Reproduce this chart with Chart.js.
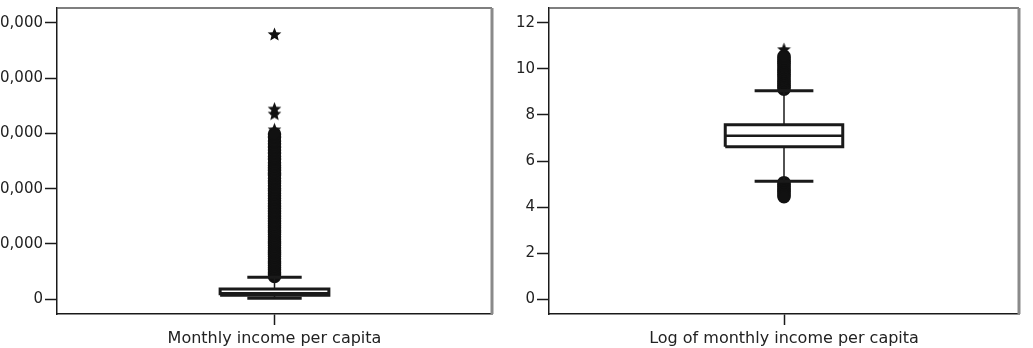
<!DOCTYPE html>
<html>
<head>
<meta charset="utf-8">
<script src="https://cdn.jsdelivr.net/npm/chart.js@4.4.1/dist/chart.umd.min.js"></script>
<style>
    html, body { margin: 0; padding: 0; background: #fff; }
    .box { position: absolute; top: 0; height: 348px; }
</style>
</head>
<body>
<div class="box" style="left:0; width:500px;"><canvas id="incomeChart"></canvas></div>
<div class="box" style="left:500px; width:533px;"><canvas id="logChart"></canvas></div>
<script>
// Monthly income per capita
const incomeLabel = 'Monthly income per capita';
const incomeStats = { low: 150, q1: 700, median: 1050, q3: 1850, high: 3950 };
const incomeOutliers = [4100, 4500, 4900, 5300, 5700, 6100, 6500, 6900, 7300, 7700, 8100, 8500, 8900, 9300, 9700,
    10100, 10500, 10900, 11300, 11700, 12100, 12500, 12900, 13300, 13700, 14100, 14600, 15000, 15500, 15900,
    16400, 16800, 17300, 17800, 18200, 18700, 19100, 19600, 20000, 20500, 21000, 21400, 21900, 22400, 22800,
    23300, 23800, 24200, 24700, 25300, 25800, 26400, 27000, 27500, 28100, 28600, 29300, 29900];
const incomeExtremes = [30650, 33500, 34400, 47900];
const incomeTicks = [0, 10000, 20000, 30000, 40000, 50000];

// Log of monthly income per capita
const logLabel = 'Log of monthly income per capita';
const logStats = { low: 5.12, q1: 6.62, median: 7.1, q3: 7.57, high: 9.05 };
const logOutliers = [9.12, 9.2, 9.28, 9.36, 9.44, 9.52, 9.6, 9.68, 9.76, 9.84, 9.92, 10.0, 10.08, 10.16, 10.24,
    10.32, 10.4, 10.48, 10.55,
    5.06, 4.98, 4.9, 4.82, 4.75, 4.67, 4.6, 4.52, 4.45];
const logExtremes = [10.84];
const logTicks = [0, 2, 4, 6, 8, 10, 12];

const INK = '#1a1a1a';
const FONT = { family: 'DejaVu Sans', size: 15 };
const LABEL_FONT = { family: 'DejaVu Sans', size: 16 };
const BOX_HALF = 0.25, CAP_HALF = 0.125;

// filled five-point star for the extreme values
const starImg = document.createElement('canvas');
starImg.width = 15; starImg.height = 15;
(function() {
    const c = starImg.getContext('2d');
    c.fillStyle = '#111';
    c.beginPath();
    for (let i = 0; i < 10; i++) {
        const r = i % 2 === 0 ? 7.2 : 3.2;
        const ang = -Math.PI / 2 + i * Math.PI / 5;
        const px = 7.5 + r * Math.cos(ang), py = 7.8 + r * Math.sin(ang);
        if (i === 0) c.moveTo(px, py); else c.lineTo(px, py);
    }
    c.closePath();
    c.fill();
})();

// border round the plot area: dark left/bottom from axes, grey top and right
const frame = {
    id: 'frame',
    afterDraw(chart) {
        const a = chart.chartArea, c = chart.ctx;
        c.save();
        c.strokeStyle = '#555';
        c.lineWidth = 1.5;
        c.beginPath(); c.moveTo(a.left, a.top); c.lineTo(a.right, a.top); c.stroke();
        c.strokeStyle = '#8a8a8a';
        c.lineWidth = 3;
        c.beginPath(); c.moveTo(a.right, a.top); c.lineTo(a.right, a.bottom); c.stroke();
        c.restore();
    }
};

function lineSet(points, width) {
    return { data: points, showLine: true, borderColor: INK, borderWidth: width, pointRadius: 0, fill: false };
}

function makeBoxChart(id, label, s, outliers, extremes, ticks, yMin, yMax, leftWidth, padRight) {
    const datasets = [
        // box
        lineSet([{x: 1 - BOX_HALF, y: s.q1}, {x: 1 + BOX_HALF, y: s.q1}, {x: 1 + BOX_HALF, y: s.q3},
                 {x: 1 - BOX_HALF, y: s.q3}, {x: 1 - BOX_HALF, y: s.q1}], 3),
        // median
        lineSet([{x: 1 - BOX_HALF, y: s.median}, {x: 1 + BOX_HALF, y: s.median}], 2.5),
        // whisker stems
        lineSet([{x: 1, y: s.q3}, {x: 1, y: s.high}], 1.5),
        lineSet([{x: 1, y: s.q1}, {x: 1, y: s.low}], 1.5),
        // caps
        lineSet([{x: 1 - CAP_HALF, y: s.high}, {x: 1 + CAP_HALF, y: s.high}], 3),
        lineSet([{x: 1 - CAP_HALF, y: s.low}, {x: 1 + CAP_HALF, y: s.low}], 3),
        {
            data: outliers.map(v => ({x: 1, y: v})),
            pointStyle: 'circle', pointRadius: 6, borderWidth: 1.5,
            borderColor: '#111', backgroundColor: '#111'
        },
        {
            data: extremes.map(v => ({x: 1, y: v})),
            pointStyle: starImg, pointRadius: 7
        }
    ];

    return new Chart(document.getElementById(id), {
        type: 'scatter',
        data: { datasets: datasets },
        options: {
            responsive: true,
            maintainAspectRatio: false,
            animation: false,
            layout: { padding: { top: 1, right: padRight, left: 0, bottom: 0 } },
            plugins: { legend: { display: false }, tooltip: { enabled: false } },
            scales: {
                x: {
                    type: 'linear', min: 0, max: 2,
                    afterBuildTicks: axis => { axis.ticks = [{value: 1}]; },
                    afterFit: axis => { axis.height = 34; axis.paddingLeft = 0; axis.paddingRight = 0; },
                    ticks: { callback: () => label, color: '#222', font: LABEL_FONT, padding: 4, maxRotation: 0 },
                    grid: { drawOnChartArea: false, tickLength: 11, tickColor: INK, tickWidth: 1.5 },
                    border: { color: INK, width: 1.5 }
                },
                y: {
                    min: yMin, max: yMax,
                    afterBuildTicks: axis => { axis.ticks = ticks.map(v => ({value: v})); },
                    afterFit: axis => { axis.width = leftWidth; axis.paddingTop = 0; axis.paddingBottom = 0; },
                    ticks: { callback: v => v.toLocaleString('en-US'), color: '#222', font: FONT, padding: 2 },
                    grid: { drawOnChartArea: false, tickLength: 12, tickColor: INK, tickWidth: 1.5 },
                    border: { color: INK, width: 1.5 }
                }
            }
        },
        plugins: [frame]
    });
}

makeBoxChart('incomeChart', incomeLabel, incomeStats, incomeOutliers, incomeExtremes, incomeTicks, -2690, 52690, 57, 7);
makeBoxChart('logChart', logLabel, logStats, logOutliers, logExtremes, logTicks, -0.645, 12.645, 49, 14);
</script>
</body>
</html>
